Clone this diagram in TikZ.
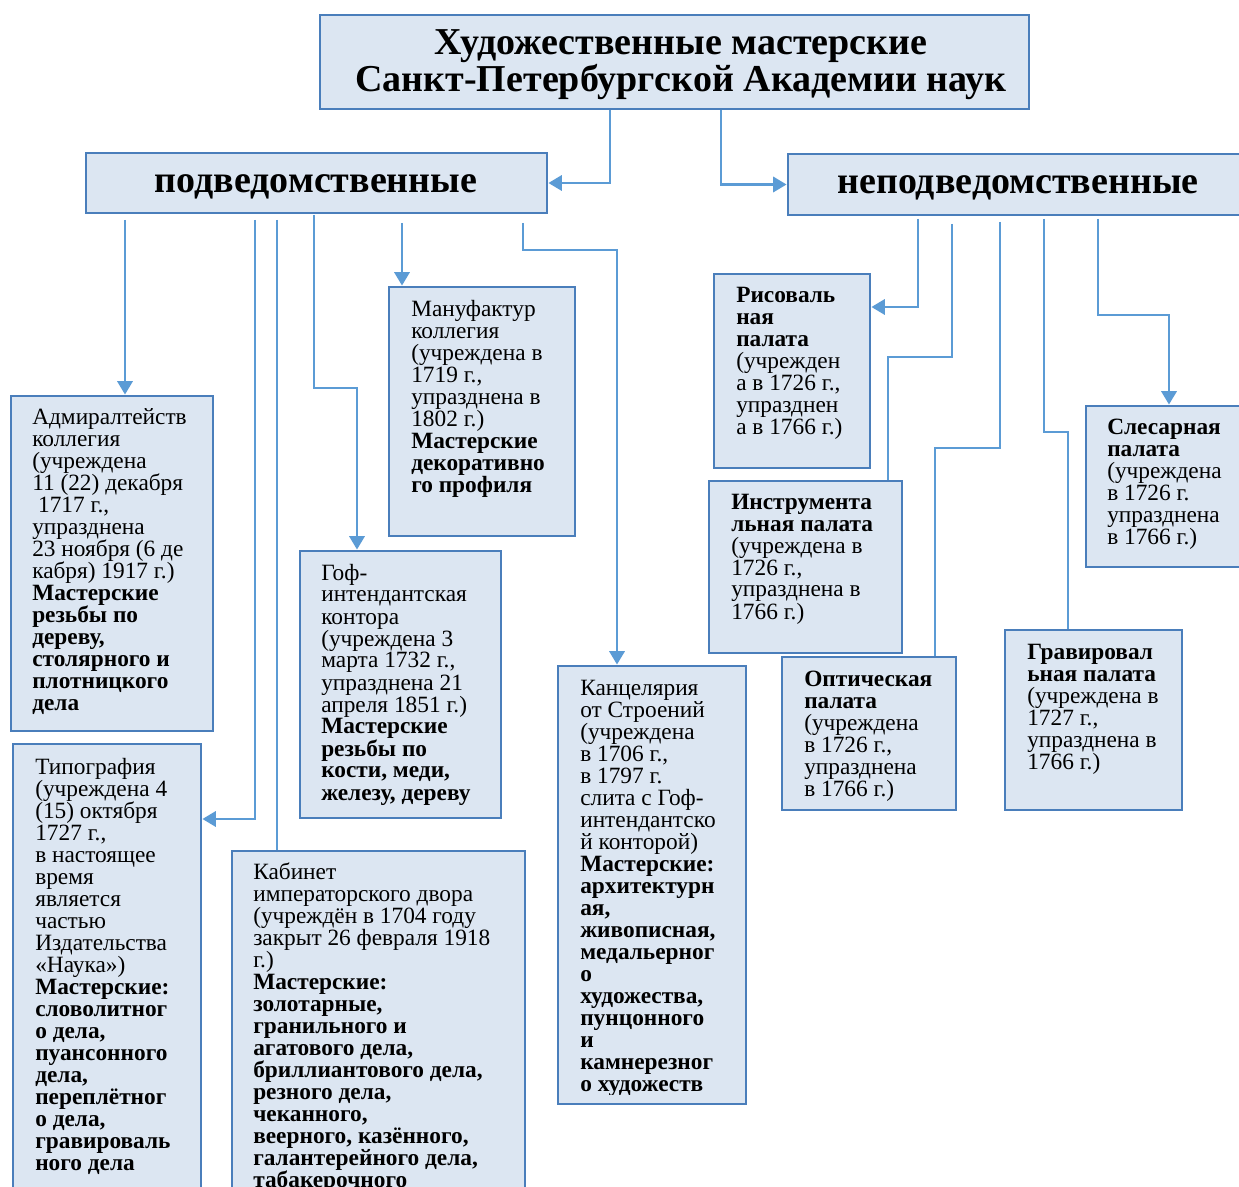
\documentclass[tikz,border=0pt]{standalone}
\usepackage{fontspec}
\setmainfont{Liberation Serif}
\usetikzlibrary{arrows.meta,fit,backgrounds}
\definecolor{boxc}{HTML}{4A7EBB}
\definecolor{fillc}{HTML}{DCE6F2}
\definecolor{linec}{HTML}{5B9BD5}
\newcommand\bodyfont{\fontsize{17.5pt}{16.5pt}\selectfont}
\newcommand\tb[1]{\parbox[t]{300pt}{\bodyfont\raggedright #1}}
\begin{document}
\begin{tikzpicture}[x=0.75pt,y=-0.75pt,
  box/.style={draw=boxc, fill=fillc, line width=2.2pt, inner sep=0pt},
  txt/.style={anchor=base west, inner sep=0pt, text=black},
  head/.style={anchor=base, inner sep=0pt, font=\fontsize{28.5pt}{30pt}\selectfont\bfseries},
  conn/.style={draw=linec, line width=1.7pt},
  arr/.style={-{Triangle[width=11.5pt,length=10pt]}}]
\useasboundingbox (0,0) rectangle (1239,1187);
\clip (0,0) rectangle (1239,1187);
% boxes
\node[box, fit={(320,15) (1029,109)}] (title) {};
\node[box, fit={(86,153) (547,213)}] (podved) {};
\node[box, fit={(788,154) (1252,215)}] (nepodved) {};
\node[box, fit={(11,396) (213,731)}] (adm) {};
\node[box, fit={(13,744) (201,1210)}] (typ) {};
\node[box, fit={(232,851) (525,1210)}] (kab) {};
\node[box, fit={(300,551) (501,818)}] (gof) {};
\node[box, fit={(389,287) (575,536)}] (man) {};
\node[box, fit={(558,666) (746,1104)}] (kan) {};
\node[box, fit={(714,274) (870,468)}] (ris) {};
\node[box, fit={(709,481) (902,653)}] (ins) {};
\node[box, fit={(782,657) (956,810)}] (opt) {};
\node[box, fit={(1005,630) (1182,810)}] (gra) {};
\node[box, fit={(1086,406) (1252,567)}] (sle) {};
% texts
\node[anchor=base, inner sep=0pt] (titleT) at (681,55) {\parbox[t]{520pt}{\centering\fontsize{28.5pt}{25.5pt}\selectfont\bfseries Художественные мастерские\\ Санкт-Петербургской Академии наук}};
\node[head] (podvedT) at (316,193) {подведомственные};
\node[head] (nepodvedT) at (1018,194) {неподведомственные};
\node[txt] (admT) at (32,425) {\tb{Адмиралтейств\\ коллегия\\ (учреждена\\ 11 (22) декабря\\ \hspace*{0.25em}1717 г.,\\ упразднена\\ 23 ноября (6 де\\ кабря) 1917 г.)\\ \textbf{Мастерские\\ резьбы по\\ дереву,\\ столярного и\\ плотницкого\\ дела}}};
\node[txt] (manT) at (411,317) {\tb{Мануфактур\\ коллегия\\ (учреждена в\\ 1719 г.,\\ упразднена в\\ 1802 г.)\\ \textbf{Мастерские\\ декоративно\\ го профиля}}};
\node[txt] (gofT) at (321,580) {\tb{Гоф-\\ интендантская\\ контора\\ (учреждена 3\\ марта 1732 г.,\\ упразднена 21\\ апреля 1851 г.)\\ \textbf{Мастерские\\ резьбы по\\ кости, меди,\\ железу, дереву}}};
\node[txt] (typT) at (35,774) {\tb{Типография\\ (учреждена 4\\ (15) октября\\ 1727 г.,\\ в настоящее\\ время\\ является\\ частью\\ Издательства\\ «Наука»)\\ \textbf{Мастерские:\\ словолитног\\ о дела,\\ пуансонного\\ дела,\\ переплётног\\ о дела,\\ гравироваль\\ ного дела}}};
\node[txt] (kabT) at (253,879) {\tb{Кабинет\\ императорского двора\\ (учреждён в 1704 году\\ закрыт 26 февраля 1918\\ г.)\\ \textbf{Мастерские:\\ золотарные,\\ гранильного и\\ агатового дела,\\ бриллиантового дела,\\ резного дела,\\ чеканного,\\ веерного, казённого,\\ галантерейного дела,\\ табакерочного}}};
\begin{scope}
\clip (558,666) rectangle (746,1094);
\node[txt] (kanT) at (580,695) {\tb{Канцелярия\\ от Строений\\ (учреждена\\ в 1706 г.,\\ в 1797 г.\\ слита с Гоф-\\ интендантско\\ й конторой)\\ \textbf{Мастерские:\\ архитектурн\\ ая,\\ живописная,\\ медальерног\\ о\\ художества,\\ пунцонного\\ и\\ камнерезног\\ о художеств}}};
\end{scope}
\node[txt] (risT) at (736,303) {\tb{\textbf{Рисоваль\\ ная\\ палата}\\ (учрежден\\ а в 1726 г.,\\ упразднен\\ а в 1766 г.)}};
\node[txt] (insT) at (731,509) {\tb{\textbf{Инструмента\\ льная палата}\\ (учреждена в\\ 1726 г.,\\ упразднена в\\ 1766 г.)}};
\node[txt] (optT) at (804,686) {\tb{\textbf{Оптическая\\ палата}\\ (учреждена\\ в 1726 г.,\\ упразднена\\ в 1766 г.)}};
\node[txt] (graT) at (1027,659) {\tb{\textbf{Гравировал\\ ьная палата}\\ (учреждена в\\ 1727 г.,\\ упразднена в\\ 1766 г.)}};
\node[txt] (sleT) at (1107,435) {\tb{\textbf{Слесарная\\ палата}\\ (учреждена\\ в 1726 г.\\ упразднена\\ в 1766 г.)}};
% connectors
\begin{scope}[on background layer]
\fill[white] (0,0) rectangle (1239,1187);
\coordinate (t1) at (610,88);
\coordinate (t2) at (721,86);
\draw[conn,arr] (t1) |- (podved.east);
\draw[conn,arr] (t2) |- (nepodved.west);
\coordinate (p1) at (125,220);
\coordinate (p2) at (255,220);
\coordinate (p3) at (277,220);
\coordinate (p4) at (314,215);
\coordinate (p5) at (402,223);
\coordinate (p6) at (523,223);
\draw[conn,arr] (p1) -- (p1 |- adm.north);
\draw[conn,arr] (p2) |- (typ.east |- 0,819);
\draw[conn] (p3) -- (p3 |- kab.north);
\draw[conn,arr] (p4) |- (357,388) -- (357,0 |- gof.north);
\draw[conn,arr] (p5) -- (p5 |- man.north);
\draw[conn,arr] (p6) |- (617,250) -- (617,0 |- kan.north);
\coordinate (n1) at (918,219);
\coordinate (n2) at (952,224);
\coordinate (n3) at (1000,222);
\coordinate (n4) at (1044,219);
\coordinate (n5) at (1098,219);
\draw[conn,arr] (n1) |- (ris.east |- 0,307);
\draw[conn,arr] (n2) |- (888,357) -- ([yshift=-11]ins.north -| 888,0);
\draw[conn] (n3) |- (935,448) -- (935,0 |- opt.north);
\draw[conn,arr] (n4) |- (1068,432) -- ([yshift=-11]gra.north -| 1068,0);
\draw[conn,arr] (n5) |- (1169,315) -- (1169,0 |- sle.north);
\end{scope}
\end{tikzpicture}
\end{document}
